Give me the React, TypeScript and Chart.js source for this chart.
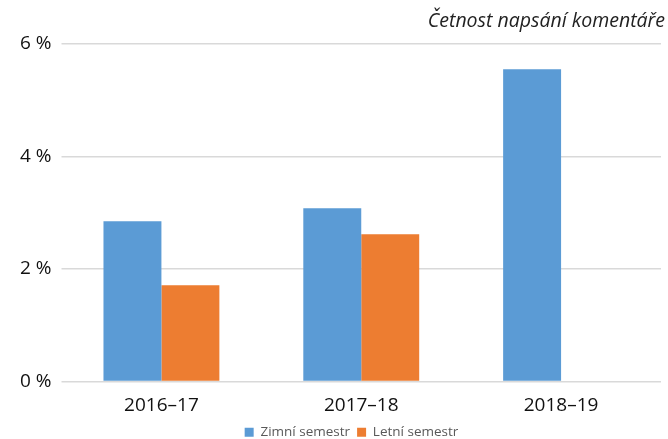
import React, { useEffect, useRef } from "react";
import { Chart, registerables } from "chart.js";

Chart.register(...registerables);

const categories = ["2016–17", "2017–18", "2018–19"];
const winterValues = [2.85, 3.08, 5.55];
const summerValues = [1.71, 2.62, null];
const yTicks = [0, 2, 4, 6];
const titleText = "Četnost napsání komentáře";
const seriesNames = ["Zimní semestr", "Letní semestr"];

const shiftPlugin = {
  id: "shiftBoxes",
  afterLayout(chart: any) {
    if (chart.legend) {
      chart.legend.left += 16;
      chart.legend.right += 16;
    }
    if (chart.titleBlock) {
      chart.titleBlock.left += 4;
      chart.titleBlock.right += 4;
    }
  },
};

export default function App() {
  const ref = useRef<HTMLCanvasElement | null>(null);
  useEffect(() => {
    document.body.style.margin = "0";
    const ctx = ref.current!;
    const chart = new Chart(ctx, {
      type: "bar",
      data: {
        labels: categories,
        datasets: [
          {
            label: seriesNames[0],
            data: winterValues,
            backgroundColor: "#5B9BD5",
            categoryPercentage: 0.58,
            barPercentage: 1.0,
          },
          {
            label: seriesNames[1],
            data: summerValues as any,
            backgroundColor: "#ED7D31",
            categoryPercentage: 0.58,
            barPercentage: 1.0,
          },
        ],
      },
      plugins: [shiftPlugin],
      options: {
        animation: false,
        responsive: false,
        maintainAspectRatio: false,
        layout: { padding: { left: 10, right: 7, top: 0, bottom: 0 } },
        plugins: {
          title: {
            display: true,
            text: titleText,
            align: "end",
            color: "#222",
            font: { family: "Open Sans", size: 19.5, style: "italic", weight: "normal" },
            padding: { top: 10, bottom: 10.6 },
          },
          legend: {
            position: "bottom",
            labels: {
              boxWidth: 9,
              boxHeight: 9,
              color: "#595959",
              font: { family: "Open Sans", size: 13.5 },
              padding: 7,
            },
          },
          tooltip: { enabled: false },
        },
        scales: {
          x: {
            grid: { display: false, drawTicks: false },
            border: { display: false },
            ticks: { color: "#111", font: { family: "Open Sans", size: 19 }, padding: 12.6 },
            afterFit: (axis: any) => {
              axis.height -= 11;
            },
          },
          y: {
            min: 0,
            max: 6,
            afterBuildTicks: (axis: any) => {
              axis.ticks = yTicks.map((v) => ({ value: v }));
            },
            grid: { color: "#D9D9D9", lineWidth: 1.5, tickLength: 0 },
            border: { display: false },
            ticks: {
              color: "#111",
              font: { family: "Open Sans", size: 19 },
              padding: 10,
              callback: (v: any) => `${v} %`,
            },
          },
        },
      },
    });
    return () => chart.destroy();
  }, []);
  return (
    <div style={{ position: "absolute", left: 0, top: 0, width: 668, height: 439, overflow: "hidden" }}>
      <canvas ref={ref} width={668} height={449} />
    </div>
  );
}
